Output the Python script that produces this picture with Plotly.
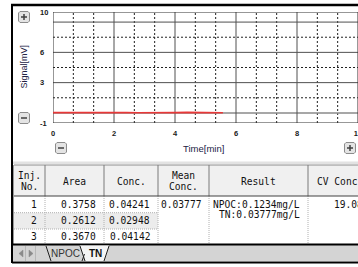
import plotly.graph_objects as go

# ---------------- data ----------------
time_min = [0.0, 0.4, 0.8, 1.2, 1.6, 2.0, 2.4, 2.8, 3.2, 3.6, 4.0, 4.4, 4.8, 5.2, 5.57]
signal_mv = [0.03, 0.04, 0.02, 0.03, 0.05, 0.02, 0.03, 0.01, 0.04, 0.02, 0.03, 0.05, 0.02, 0.03, 0.02]
x_ticks = [0, 2, 4, 6, 8, 10]
y_tick_labels = [10, 6, 3, -1]

inj_no = ["1", "2", "3"]
area = ["0.3758", "0.2612", "0.3670"]
conc = ["0.04241", "0.02948", "0.04142"]
mean_conc = "0.03777"
result_lines = ["NPOC:0.1234mg/L", "TN:0.03777mg/L"]
cv_conc = "19.08"
headers = [["Inj.", "No."], ["Area"], ["Conc."], ["Mean", "Conc."], ["Result"]]
tabs = ["NPOC", "TN"]

W, H = 358, 267
def X(p): return p / W
def Y(p): return 1 - p / H

MONO = "DejaVu Sans Mono"

fig = go.Figure()
fig.add_trace(go.Scatter(x=time_min, y=signal_mv, mode="lines",
                         line=dict(color="#e83838", width=1.6), hoverinfo="skip"))

shapes = []
ann = []

# ---- plot grid (data coordinates) ----
def dline(x0, y0, x1, y1, color, width=1, dash="solid"):
    shapes.append(dict(type="line", xref="x", yref="y", x0=x0, y0=y0, x1=x1, y1=y1,
                       line=dict(color=color, width=width, dash=dash), layer="below"))

for yv in [7.5, 4.5, 1.5]:
    dline(0, yv, 10, yv, "#202020", 1, "2px,2px")
for k in range(1, 15):
    xv = k * 2 / 3
    if k % 3 != 0:
        dline(xv, -1, xv, 10, "#202020", 1, "2px,2px")
for yv in [9, 6, 3]:
    dline(0, yv, 10, yv, "#505050", 1)
dline(0, 0, 10, 0, "#8a8a8a", 1.5)
for xv in [2, 4, 6, 8]:
    dline(xv, -1, xv, 10, "#505050", 1)
shapes.append(dict(type="rect", xref="x", yref="y", x0=0, y0=-1, x1=10, y1=10,
                   line=dict(color="#303030", width=1), layer="below"))

# y tick labels placed on the y scale
for v in y_tick_labels:
    ann.append(dict(xref="paper", yref="y", x=X(38), y=v, xanchor="left", yanchor="middle",
                    text=str(v), showarrow=False,
                    font=dict(family="Liberation Sans", size=7.5, color="#202020", weight="bold")))

# ---- pixel helpers (paper coords) ----
def pline(x0, y0, x1, y1, color, width=1, dash="solid"):
    shapes.append(dict(type="line", xref="paper", yref="paper", x0=X(x0), y0=Y(y0), x1=X(x1), y1=Y(y1),
                       line=dict(color=color, width=width, dash=dash)))

def prect(x0, y0, x1, y1, fill, color=None, width=0):
    shapes.append(dict(type="rect", xref="paper", yref="paper", x0=X(x0), y0=Y(y0), x1=X(x1), y1=Y(y1),
                       fillcolor=fill, line=dict(color=color or fill, width=width), layer="below"))

def ppath(pts, fill, color, width=1):
    d = "M " + " L ".join(f"{X(a):.5f},{Y(b):.5f}" for a, b in pts) + " Z"
    shapes.append(dict(type="path", xref="paper", yref="paper", path=d, fillcolor=fill,
                       line=dict(color=color, width=width)))

def button(cx, cy, plus):
    r = 5.5
    c = 1.5
    pts = [(cx - r + c, cy - r), (cx + r - c, cy - r), (cx + r, cy - r + c), (cx + r, cy + r - c),
           (cx + r - c, cy + r), (cx - r + c, cy + r), (cx - r, cy + r - c), (cx - r, cy - r + c)]
    ppath(pts, "#e4e4e4", "#8c8c8c", 1)
    pline(cx - 3, cy, cx + 3, cy, "#404040", 1.5)
    if plus:
        pline(cx, cy - 3, cx, cy + 3, "#404040", 1.5)

def text(x, y, s, anchor="center", size=9.6, family=MONO, color="#111111", weight="normal"):
    ann.append(dict(xref="paper", yref="paper", x=X(x), y=Y(y), xanchor=anchor, yanchor="middle",
                    text=s, showarrow=False,
                    font=dict(family=family, size=size, color=color, weight=weight)))

button(24, 17, True)
button(24, 118, False)
button(61, 148, False)
button(350, 148, True)

text(203, 148, "Time[min]", size=9.5, family="Liberation Sans", color="#222244")
ann.append(dict(xref="paper", yref="paper", x=X(23.5), y=Y(67), xanchor="center", yanchor="middle",
                text="Signal[mV]", textangle=-90, showarrow=False,
                font=dict(family="Liberation Sans", size=9, color="#222244")))

# ---- window frame ----
pline(12, 4.5, 12, 263, "#000000", 2)
pline(11, 5, 358, 5, "#000000", 2.5)
prect(13, 161.5, 358, 164, "#e2e2e2")

# ---- table ----
cols = [14, 45, 104, 158, 209, 308, 420]
r_top, r_head, r1, r2, r3 = 165, 196, 212.7, 229, 244
prect(14, r_top, 360, r_head, "#f0f0f0")
prect(14, r1, 158, r2, "#ececec")
pline(14, r_top, 358, r_top, "#8c8c8c", 1)
pline(13.5, r_top, 13.5, r3, "#9a9a9a", 1)
for cx in cols[1:-1]:
    pline(cx, r_top, cx, r_head, "#7a7a7a", 1)
    pline(cx, r_head, cx, r3, "#b0b0b0", 1, "1px,1px")
pline(14, r_head, 358, r_head, "#404040", 1.2)
for ry in [r1, r2]:
    pline(14, ry, 158, ry, "#b0b0b0", 1, "1px,1px")

# header texts
for i, h in enumerate(headers):
    cxm = (cols[i] + cols[i + 1]) / 2
    if len(h) == 2:
        text(cxm, 175.5, h[0])
        text(cxm, 186, h[1])
    else:
        text(cxm, 181, h[0])
text(314.5, 181, "CV Conc.", anchor="left")

# data rows
row_y = [204.5, 220.8, 236.5]
for j in range(3):
    text(cols[1] - 6, row_y[j], inj_no[j], anchor="right")
    text(cols[2] - 6, row_y[j], area[j], anchor="right")
    text(cols[3] - 6, row_y[j], conc[j], anchor="right")
text(cols[4] - 5, row_y[0], mean_conc, anchor="right")
text(cols[5] - 6, row_y[0], result_lines[0], anchor="right")
text(cols[5] - 6, row_y[0] + 10, result_lines[1], anchor="right")
text(332, row_y[0], cv_conc, anchor="left")

# ---- tab bar ----
prect(13, 245, 358, 261, "#d4d4d4")
pline(12, 244.5, 358, 244.5, "#000000", 2)
pline(12, 262.5, 358, 262.5, "#000000", 2)
ppath([(80, 245.5), (109, 245.5), (104, 261), (85, 261)], "#f4f4f4", "#f4f4f4", 0)
ppath([(23, 250), (23, 257), (19, 253.5)], "#8a8a8a", "#8a8a8a", 0.5)
ppath([(29, 250), (29, 257), (33, 253.5)], "#8a8a8a", "#8a8a8a", 0.5)
pline(25.5, 246, 25.5, 261, "#b8b8b8", 1)
pline(35.5, 246, 35.5, 261, "#b8b8b8", 1)
pline(46, 246, 51, 261, "#202020", 1)
pline(80, 246, 85, 261, "#202020", 1)
pline(82, 261, 84.5, 254, "#202020", 1)
pline(104, 261, 109, 246, "#202020", 1)
text(65.5, 253.5, tabs[0], size=10, family="Liberation Sans", color="#333333")
text(95, 253.5, tabs[1], size=10, family="Liberation Sans", color="#111111", weight="bold")

fig.update_layout(
    width=W, height=H, autosize=False,
    margin=dict(l=0, r=0, t=0, b=0, autoexpand=False),
    paper_bgcolor="white", plot_bgcolor="white",
    showlegend=False,
    shapes=shapes, annotations=ann,
    xaxis=dict(domain=[53 / W, 1], range=[0, 10], showgrid=False, zeroline=False, showline=False,
               automargin=False,
               tickvals=x_ticks, ticktext=[str(v) for v in x_ticks], ticks="",
               ticklabelstandoff=4, ticklabeloverflow="allow",
               tickfont=dict(family="Liberation Sans", size=7.5, color="#202020", weight="bold"),
               fixedrange=True),
    yaxis=dict(domain=[1 - 123 / H, 1 - 12 / H], range=[-1, 10], showgrid=False, zeroline=False,
               automargin=False,
               showline=False, showticklabels=False, ticks="", fixedrange=True),
)

fig.write_html("out.html", config={"displayModeBar": False},
               post_script="document.body.style.margin='0';document.body.style.overflow='hidden';")
